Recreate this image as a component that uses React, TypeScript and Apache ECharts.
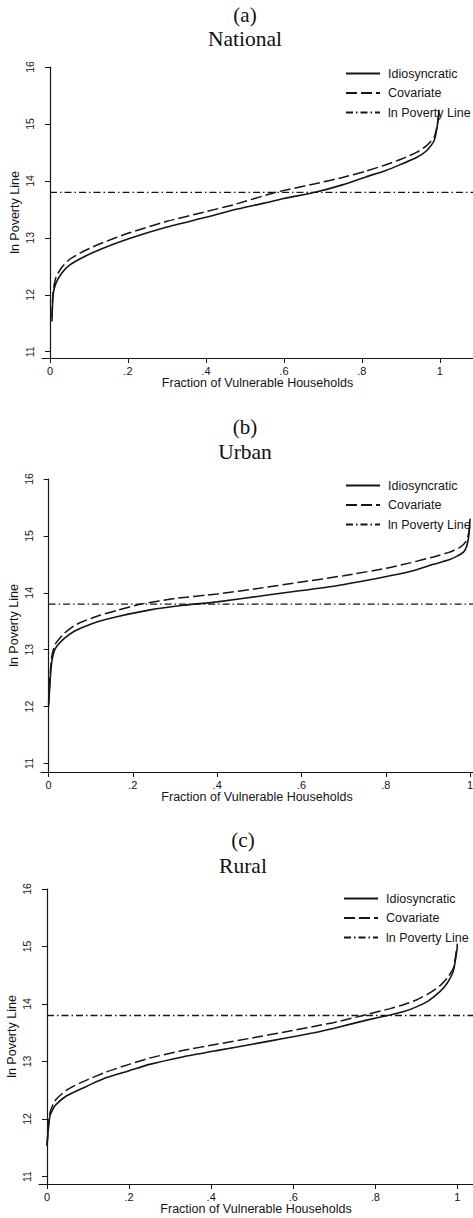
import React, { useEffect, useRef } from "react";
import * as echarts from "echarts";

// ---------- data ----------
const seriesNames = ["Idiosyncratic", "Covariate", "ln Poverty Line"];
const panelLetters = ["(a)", "(b)", "(c)"];
const panelNames = ["National", "Urban", "Rural"];
const xAxisTitle = "Fraction of Vulnerable Households";
const yAxisTitle = "ln Poverty Line";
const xTicks = [0, 0.2, 0.4, 0.6, 0.8, 1];
const xTickLabels = ["0", ".2", ".4", ".6", ".8", "1"];
const yTicks = [11, 12, 13, 14, 15, 16];
const povertyLine = 13.8;

// National
const natIdioX = [0.005, 0.008, 0.015, 0.03, 0.05, 0.085, 0.13, 0.2, 0.3, 0.4, 0.47, 0.55, 0.6, 0.68, 0.75, 0.81, 0.86, 0.9, 0.94, 0.966, 0.985, 0.993, 0.998];
const natIdioY = [11.53, 12.0, 12.2, 12.38, 12.52, 12.66, 12.8, 12.98, 13.19, 13.36, 13.49, 13.61, 13.69, 13.8, 13.93, 14.07, 14.18, 14.29, 14.41, 14.53, 14.7, 14.95, 15.25];
const natCovX = [0.005, 0.008, 0.015, 0.03, 0.05, 0.085, 0.13, 0.2, 0.3, 0.4, 0.47, 0.58, 0.68, 0.75, 0.81, 0.86, 0.9, 0.94, 0.966, 0.985, 0.993, 0.998];
const natCovY = [11.6, 12.05, 12.3, 12.48, 12.62, 12.76, 12.9, 13.08, 13.29, 13.46, 13.58, 13.8, 13.95, 14.06, 14.17, 14.28, 14.38, 14.5, 14.62, 14.76, 14.97, 15.2];

// Urban
const urbIdioX = [0.0, 0.004, 0.008, 0.016, 0.036, 0.06, 0.083, 0.12, 0.162, 0.241, 0.32, 0.4, 0.52, 0.6, 0.68, 0.79, 0.86, 0.913, 0.95, 0.968, 0.985, 0.992, 0.997, 1.0];
const urbIdioY = [12.0, 12.5, 12.81, 13.02, 13.19, 13.32, 13.4, 13.5, 13.58, 13.7, 13.78, 13.84, 13.96, 14.04, 14.12, 14.27, 14.38, 14.5, 14.58, 14.64, 14.72, 14.82, 15.0, 15.3];
const urbCovX = [0.0, 0.004, 0.008, 0.016, 0.036, 0.06, 0.083, 0.12, 0.162, 0.218, 0.3, 0.4, 0.5, 0.6, 0.7, 0.8, 0.86, 0.913, 0.95, 0.976, 0.99, 0.997, 1.0];
const urbCovY = [12.05, 12.6, 12.9, 13.1, 13.28, 13.42, 13.5, 13.6, 13.69, 13.8, 13.9, 13.98, 14.08, 14.19, 14.3, 14.43, 14.53, 14.63, 14.71, 14.8, 14.9, 15.05, 15.2];

// Rural
const rurIdioX = [0.0, 0.003, 0.007, 0.015, 0.023, 0.047, 0.088, 0.145, 0.2, 0.25, 0.33, 0.413, 0.5, 0.576, 0.65, 0.7, 0.779, 0.836, 0.87, 0.9, 0.93, 0.958, 0.975, 0.99, 0.996, 1.0];
const rurIdioY = [11.53, 11.8, 12.05, 12.18, 12.26, 12.4, 12.54, 12.72, 12.84, 12.95, 13.08, 13.19, 13.3, 13.4, 13.5, 13.58, 13.72, 13.81, 13.87, 13.95, 14.06, 14.22, 14.36, 14.57, 14.8, 15.0];
const rurCovX = [0.0, 0.003, 0.007, 0.015, 0.023, 0.047, 0.088, 0.145, 0.2, 0.25, 0.33, 0.413, 0.5, 0.576, 0.65, 0.7, 0.77, 0.836, 0.87, 0.9, 0.93, 0.958, 0.975, 0.99, 0.996, 1.0];
const rurCovY = [11.55, 11.85, 12.1, 12.26, 12.35, 12.5, 12.65, 12.82, 12.95, 13.06, 13.19, 13.3, 13.41, 13.51, 13.61, 13.68, 13.8, 13.92, 13.99, 14.07, 14.18, 14.32, 14.45, 14.62, 14.85, 15.05];

const idioX = [natIdioX, urbIdioX, rurIdioX];
const idioY = [natIdioY, urbIdioY, rurIdioY];
const covX = [natCovX, urbCovX, rurCovX];
const covY = [natCovY, urbCovY, rurCovY];

// axis extents per panel (as drawn)
const xMins = [-0.0205, -0.018, -0.0195];
const xMaxs = [1.085, 1.007, 1.038];
const yMins = [10.89, 10.85, 10.87];
const yMax = 16;

// ---------- layout ----------
const grids = [
  { left: 42, top: 67, width: 431, height: 291 },
  { left: 41, top: 479, width: 432, height: 293 },
  { left: 39, top: 889, width: 434, height: 295 },
];
const titleX = [245, 245, 243];
const letterY = [15, 427, 840];
const nameY = [39, 452, 866];
const legendLeft = [345, 345, 343];
const legendTop = [67, 479, 892];

const ink = "#151515";
const sans = "'Liberation Sans', Arial, Helvetica, sans-serif";
const serif = "'Liberation Serif', 'Times New Roman', serif";

const zip = (xs: number[], ys: number[]) => xs.map((x, i) => [x, ys[i]]);

export default function App() {
  const ref = useRef<HTMLDivElement>(null);
  useEffect(() => {
    if (!ref.current) return;
    const chart = echarts.init(ref.current, undefined, { renderer: "svg" });

    const xAxis: any[] = [];
    const yAxis: any[] = [];
    const series: any[] = [];
    const legend: any[] = [];
    const graphic: any[] = [];

    for (let p = 0; p < 3; p++) {
      xAxis.push({
        type: "value",
        gridIndex: p,
        min: xMins[p],
        max: xMaxs[p],
        name: xAxisTitle,
        nameLocation: "middle",
        nameGap: 18,
        nameMoveOverlap: false,
        nameTextStyle: { fontFamily: sans, fontSize: 12.5, color: ink },
        axisLine: { show: true, lineStyle: { color: ink, width: 1.2 } },
        axisTick: { show: true, length: 5, customValues: xTicks, lineStyle: { color: ink } },
        axisLabel: {
          show: true,
          customValues: xTicks,
          margin: 7,
          fontFamily: sans,
          fontSize: 11,
          color: ink,
          formatter: (v: number) => {
            const i = xTicks.findIndex((t) => Math.abs(t - v) < 1e-6);
            return i >= 0 ? xTickLabels[i] : "";
          },
        },
        splitLine: { show: false },
      });
      yAxis.push({
        type: "value",
        gridIndex: p,
        min: yMins[p],
        max: yMax,
        name: yAxisTitle,
        nameLocation: "middle",
        nameGap: 21,
        nameMoveOverlap: false,
        nameTextStyle: { fontFamily: sans, fontSize: 12.5, color: ink },
        axisLine: { show: true, lineStyle: { color: ink, width: 1.2 } },
        axisTick: { show: true, length: 5, customValues: yTicks, lineStyle: { color: ink } },
        axisLabel: {
          show: true,
          customValues: yTicks,
          rotate: 90,
          margin: 7,
          fontFamily: sans,
          fontSize: 10.5,
          color: ink,
        },
        splitLine: { show: false },
      });
      series.push({
        type: "line",
        name: seriesNames[0],
        xAxisIndex: p,
        yAxisIndex: p,
        data: zip(idioX[p], idioY[p]),
        showSymbol: false,
        symbol: "none",
        smooth: 0.2,
        lineStyle: { color: ink, width: 1.6, type: "solid" },
        itemStyle: { color: ink },
        z: 3,
      });
      series.push({
        type: "line",
        name: seriesNames[1],
        xAxisIndex: p,
        yAxisIndex: p,
        data: zip(covX[p], covY[p]),
        showSymbol: false,
        symbol: "none",
        smooth: 0.2,
        lineStyle: { color: ink, width: 1.5, type: [11, 4] },
        itemStyle: { color: ink },
        z: 3,
      });
      series.push({
        type: "line",
        name: seriesNames[2],
        xAxisIndex: p,
        yAxisIndex: p,
        data: [
          [0, povertyLine],
          [xMaxs[p], povertyLine],
        ],
        showSymbol: false,
        symbol: "none",
        lineStyle: { color: ink, width: 1.3, type: [7, 3, 1.5, 3] },
        itemStyle: { color: ink },
        z: 2,
      });
      legend.push({
        show: true,
        orient: "vertical",
        left: legendLeft[p],
        top: legendTop[p],
        padding: 0,
        itemWidth: 34,
        itemHeight: 11,
        itemGap: 6.5,
        selectedMode: false,
        data: seriesNames,
        itemStyle: { opacity: 0 },
        textStyle: { fontFamily: sans, fontSize: 12.5, color: ink, padding: [0, 0, 0, 3] },
      });
      graphic.push({
        type: "text",
        x: titleX[p],
        y: letterY[p],
        style: {
          text: panelLetters[p],
          fontFamily: serif,
          fontSize: 21,
          fill: "#111",
          textAlign: "center",
          textVerticalAlign: "middle",
        },
      });
      graphic.push({
        type: "text",
        x: titleX[p],
        y: nameY[p],
        style: {
          text: panelNames[p],
          fontFamily: serif,
          fontSize: 21.5,
          fill: "#111",
          textAlign: "center",
          textVerticalAlign: "middle",
        },
      });
    }

    chart.setOption({
      animation: false,
      backgroundColor: "#ffffff",
      grid: grids.map((g) => ({ ...g, containLabel: false, outerBoundsMode: "none" })),
      xAxis,
      yAxis,
      series,
      legend,
      graphic,
    });
    return () => chart.dispose();
  }, []);

  return (
    <div
      ref={ref}
      style={{ position: "absolute", left: 0, top: 0, width: 473, height: 1218, background: "#fff" }}
    />
  );
}
